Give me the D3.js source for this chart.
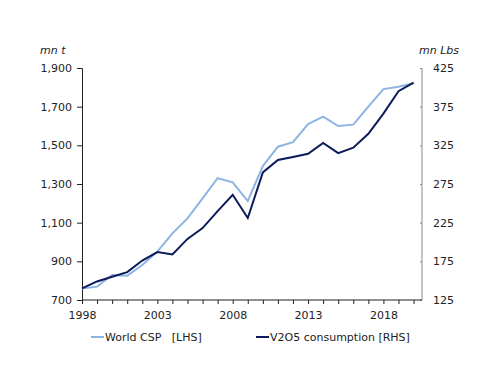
<!DOCTYPE html>
<html>
<head>
<meta charset="utf-8">
<script src="https://cdn.jsdelivr.net/npm/d3@7"></script>
<style>
  body { margin: 0; background: #fff; }
  text { font-family: "DejaVu Sans", Verdana, sans-serif; fill: #222; }
</style>
</head>
<body>
<div id="chart"></div>
<script>
// chart data
var years = [1998, 1999, 2000, 2001, 2002, 2003, 2004, 2005, 2006, 2007, 2008,
  2009, 2010, 2011, 2012, 2013, 2014, 2015, 2016, 2017, 2018, 2019, 2020];
var worldCSP = [760, 769, 829, 826, 881, 950, 1045, 1122, 1226, 1330, 1309,
  1212, 1393, 1493, 1516, 1610, 1648, 1600, 1607, 1700, 1791, 1803, 1821];
var v2o5 = [140, 149, 155, 161, 176, 187, 184, 204, 218, 240, 261,
  231, 290, 306, 310, 314, 328, 315, 322, 340, 366, 395, 406];
var leftTicks = [700, 900, 1100, 1300, 1500, 1700, 1900];
var rightTicks = [125, 175, 225, 275, 325, 375, 425];
var yearLabels = [1998, 2003, 2008, 2013, 2018];

var width = 500, height = 386;
var margin = { top: 68, right: 78, bottom: 86, left: 82 };

var svg = d3.select('#chart').append('svg')
  .attr('width', width)
  .attr('height', height);

var x = d3.scaleLinear().domain([1998, 2020.56]).range([margin.left, width - margin.right]);
var yL = d3.scaleLinear().domain([700, 1900]).range([height - margin.bottom, margin.top]);
var yR = d3.scaleLinear().domain([125, 425]).range([height - margin.bottom, margin.top]);

// left axis
var left = svg.append('g')
  .attr('transform', 'translate(' + margin.left + ',0)')
  .call(d3.axisLeft(yL).tickValues(leftTicks).tickSize(5).tickPadding(5)
    .tickFormat(d3.format(',')));
left.select('.domain').attr('stroke', '#222');
left.selectAll('.tick line').attr('stroke', '#222');

// right axis, ticks pointing inward
var right = svg.append('g')
  .attr('transform', 'translate(' + (width - margin.right) + ',0)')
  .call(d3.axisRight(yR).tickValues(rightTicks).tickSize(0).tickPadding(11));
right.select('.domain').attr('stroke', '#888').attr('d', 'M0,' + margin.top + 'V' + (height - margin.bottom));
right.selectAll('.tick').append('line').attr('x1', -2).attr('x2', 0).attr('stroke', '#888');

// bottom axis
var bottom = svg.append('g')
  .attr('transform', 'translate(0,' + (height - margin.bottom) + ')')
  .call(d3.axisBottom(x).tickValues(years).tickSize(4).tickPadding(7)
    .tickFormat(function (d) { return yearLabels.indexOf(d) >= 0 ? d : ''; }));
bottom.select('.domain').attr('stroke', '#222').attr('d', 'M' + margin.left + ',0H' + (width - margin.right));
bottom.selectAll('.tick line').attr('stroke', '#222');

svg.selectAll('.tick text').style('font-size', '11px').attr('fill', '#222');

// lines
var lineL = d3.line().x(function (d, i) { return x(years[i]); }).y(function (d) { return yL(d); });
var lineR = d3.line().x(function (d, i) { return x(years[i]); }).y(function (d) { return yR(d); });

svg.append('path').datum(worldCSP)
  .attr('d', lineL)
  .attr('fill', 'none')
  .attr('stroke', '#8DB4E2')
  .attr('stroke-width', 2);

svg.append('path').datum(v2o5)
  .attr('d', lineR)
  .attr('fill', 'none')
  .attr('stroke', '#0C1A5A')
  .attr('stroke-width', 2);

// axis titles
svg.append('text').attr('x', 40).attr('y', 54)
  .style('font-size', '11px').style('font-style', 'italic').text('mn t');
svg.append('text').attr('x', 419).attr('y', 54)
  .style('font-size', '11px').style('font-style', 'italic').text('mn Lbs');

// legend
var legend = [
  { name: 'World CSP   [LHS]', color: '#8DB4E2', x: 91 },
  { name: 'V2O5 consumption [RHS]', color: '#0C1A5A', x: 256 }
];
var lg = svg.selectAll('.legend').data(legend).enter().append('g')
  .attr('class', 'legend')
  .attr('transform', function (d) { return 'translate(' + d.x + ',337)'; });
lg.append('line').attr('x1', 0).attr('x2', 13)
  .attr('stroke', function (d) { return d.color; }).attr('stroke-width', 2);
lg.append('text').attr('x', 14).attr('dy', '0.35em')
  .style('font-size', '11px').style('white-space', 'pre')
  .text(function (d) { return d.name; });
</script>
</body>
</html>
